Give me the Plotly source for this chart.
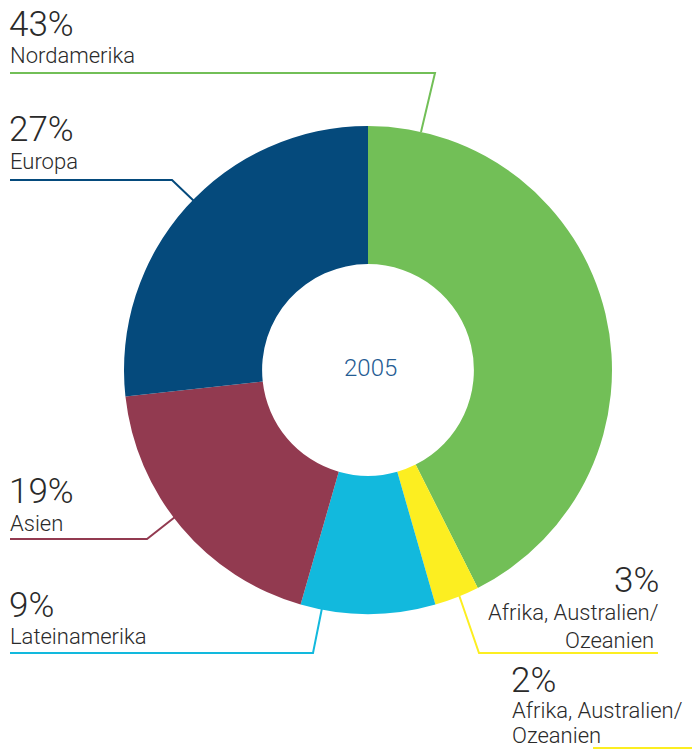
import plotly.graph_objects as go

W, H = 692, 749

# Regional shares (percent), clockwise from 12 o'clock
regions = ["Nordamerika", "Afrika, Australien/Ozeanien", "Lateinamerika", "Asien", "Europa"]
shares = [43, 3, 9, 19, 27]
colors = ["#72BF57", "#FCEE21", "#12B9DD", "#923A50", "#054A7C"]
year_label = "2005"

FONT = "Roboto"
TXT = "#2a2a2a"


def px(x):
    return x / W


def py(y):
    return 1 - y / H


# donut geometry in pixels
cx, cy, r = 368, 370, 244

fig = go.Figure(
    go.Pie(
        labels=regions,
        values=shares,
        marker=dict(colors=colors, line=dict(width=0)),
        hole=0.434,
        sort=False,
        direction="clockwise",
        rotation=0,
        textinfo="none",
        hoverinfo="label+percent",
        showlegend=False,
        domain=dict(x=[px(cx - r), px(cx + r)], y=[py(cy + r), py(cy - r)]),
    )
)

annotations = []


def label(text, x, cap_top, baseline, size, anchor="left"):
    annotations.append(
        dict(
            text=text,
            x=px(x),
            y=py((cap_top + baseline) / 2),
            xref="paper",
            yref="paper",
            xanchor=anchor,
            yanchor="middle",
            showarrow=False,
            borderpad=0,
            font=dict(family=FONT, size=size, color=TXT, weight=300),
        )
    )


BIG, SMALL = 35, 22

label(f"{shares[0]}%", 8, 12, 38, BIG)
label(regions[0], 9, 47, 64, SMALL)

label(f"{shares[4]}%", 8, 117, 143, BIG)
label(regions[4], 9, 152, 170, SMALL)

label(f"{shares[3]}%", 8, 478, 505, BIG)
label(regions[3], 9, 515, 531, SMALL)

label(f"{shares[2]}%", 8, 592, 618, BIG)
label(regions[2], 9, 628, 645, SMALL)

label(f"{shares[1]}%", 660, 567, 594, BIG, "right")
label("Afrika, Australien/", 660, 605, 620, SMALL, "right")
label("Ozeanien", 655, 633, 647, SMALL, "right")

label("2%", 510, 667, 693, BIG)
label("Afrika, Australien/", 511, 703, 718, SMALL)
label("Ozeanien", 511, 727, 743, SMALL)

annotations.append(
    dict(
        text=year_label,
        x=px(370),
        y=py(368),
        xref="paper",
        yref="paper",
        showarrow=False,
        font=dict(family=FONT, size=24, color="#255C93", weight=300),
    )
)


def leader(points, color):
    path = "M " + " L ".join(f"{px(x)},{py(y)}" for x, y in points)
    return dict(
        type="path",
        path=path,
        xref="paper",
        yref="paper",
        line=dict(color=color, width=2),
        layer="below",
    )


shapes = [
    leader([(10, 73), (435, 73), (421, 132)], colors[0]),
    leader([(10, 180), (172, 180), (195, 202)], colors[4]),
    leader([(10, 539), (147, 539), (175, 517)], colors[3]),
    leader([(10, 653), (313, 653), (322, 608)], colors[2]),
    leader([(459, 595), (479, 653), (658, 653)], colors[1]),
    leader([(593, 748), (692, 748)], colors[1]),
]

fig.update_layout(
    width=W,
    height=H,
    margin=dict(l=0, r=0, t=0, b=0),
    paper_bgcolor="white",
    plot_bgcolor="white",
    annotations=annotations,
    shapes=shapes,
)

fig.write_html("out.html")
